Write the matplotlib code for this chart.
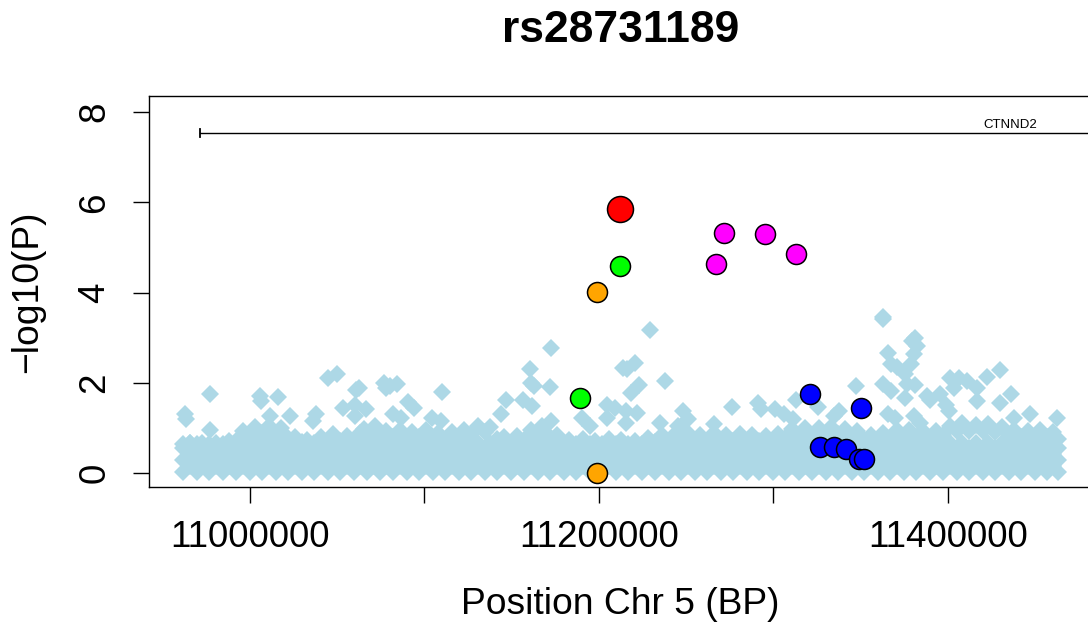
import matplotlib
matplotlib.use("Agg")
import matplotlib.pyplot as plt
from matplotlib.ticker import FixedLocator, FixedFormatter

plt.rcParams['font.family'] = ['Liberation Sans', 'DejaVu Sans']

# ---------------- data ----------------
title = "rs28731189"
x_label = "Position Chr 5 (BP)"
y_label = "\u2212log10(P)"

x_ticks = [11000000, 11100000, 11200000, 11300000, 11400000]
x_tick_labels = ["11000000", "", "11200000", "", "11400000"]
y_ticks = [0, 2, 4, 6, 8]

gene_name = "CTNND2"
gene_start = 10971836
gene_end = 11904155
gene_y = 7.53
gene_label_x = 11435600
gene_label_y = 7.71

# dense band of background SNPs (positions in kb)
band_even_x = [10962, 10970, 10977, 10985, 10992, 11000, 11007, 11015, 11022, 11030,
               11037, 11045, 11052, 11060, 11067, 11075, 11082, 11090, 11097, 11105,
               11112, 11120, 11127, 11135, 11142, 11150, 11157, 11165, 11172, 11180,
               11187, 11195, 11202, 11210, 11217, 11225, 11232, 11240, 11247, 11255,
               11262, 11270, 11277, 11285, 11292, 11300, 11307, 11315, 11322, 11330,
               11337, 11345, 11352, 11360, 11367, 11375, 11382, 11390, 11397, 11405,
               11412, 11420, 11427, 11435, 11442, 11450, 11457, 11463]
band_odd_x = [10966, 10973, 10981, 10988, 10996, 11003, 11011, 11018, 11026, 11033,
              11041, 11048, 11056, 11063, 11071, 11078, 11086, 11093, 11101, 11108,
              11116, 11123, 11131, 11138, 11146, 11153, 11161, 11168, 11176, 11183,
              11191, 11198, 11206, 11213, 11221, 11228, 11236, 11243, 11251, 11258,
              11266, 11273, 11281, 11288, 11296, 11303, 11311, 11318, 11326, 11333,
              11341, 11348, 11356, 11363, 11371, 11378, 11386, 11393, 11401, 11408,
              11416, 11423, 11431, 11438, 11446, 11453, 11460]
band_levels = [0.03, 0.16, 0.29, 0.42, 0.55, 0.66]
band_mid_y = [0.64, 0.64, 0.64, 0.64, 0.70, 0.80, 0.88, 0.88, 0.78, 0.68,
              0.66, 0.70, 0.70, 0.72, 0.72, 0.74, 0.80, 0.78, 0.80, 0.78,
              0.74, 0.78, 0.86, 0.90, 0.76, 0.66, 0.74, 0.84, 0.80, 0.66,
              0.64, 0.64, 0.64, 0.64, 0.64, 0.64, 0.68, 0.70, 0.72, 0.72,
              0.72, 0.72, 0.72, 0.72, 0.70, 0.70, 0.78, 0.84, 0.84, 0.86,
              0.86, 0.82, 0.74, 0.72, 0.78, 0.82, 0.80, 0.78, 0.84, 0.92,
              0.94, 0.92, 0.90, 0.84, 0.80, 0.80, 0.80, 0.76]
band_top_y = [0.66, 0.60, 0.62, 0.72, 0.92, 1.02, 1.05, 1.00, 0.80, 0.74,
              0.80, 0.86, 0.82, 0.88, 0.84, 0.92, 0.95, 0.90, 0.96, 0.88,
              0.90, 0.95, 1.05, 1.02, 0.80, 0.82, 0.95, 1.00, 0.85, 0.74,
              0.76, 0.72, 0.76, 0.74, 0.70, 0.78, 0.85, 0.84, 0.88, 0.84,
              0.88, 0.84, 0.86, 0.84, 0.82, 0.86, 0.98, 0.96, 1.00, 1.02,
              0.98, 0.92, 0.84, 0.88, 0.96, 0.96, 0.92, 0.94, 1.05, 1.10,
              1.06, 1.08, 1.02, 0.95, 0.94, 0.95, 0.90]

# scattered background SNPs above the band (kb, -log10 P)
scatter_x = [10963.1, 10963.7, 10977.5, 10977.5, 11005.8, 11006.3, 11016.1, 11045.0, 11050.1, 11061.1,
             11062.8, 11077.2, 11078.4, 11053.6, 11060.5, 11060.5, 11066.9, 11065.7, 11072.0, 11023.1,
             11038.0, 11036.3, 11011.5, 11080.7, 11084.2, 11110.1, 11090.5, 11094.0, 11082.4, 11086.5,
             11104.3, 11109.5, 11172.9, 11160.8, 11161.4, 11163.1, 11172.3, 11147.0, 11156.8, 11162.0,
             11144.1, 11172.9, 11167.7, 11213.8, 11204.6, 11209.2, 11204.6, 11190.2, 11194.8, 11229.4,
             11216.1, 11220.8, 11223.1, 11218.5, 11238.1, 11215.6, 11221.9, 11215.6, 11248.4, 11251.3,
             11245.5, 11235.2, 11266.3, 11276.1, 11291.1, 11292.8, 11300.9, 11306.1, 11311.3, 11313.0,
             11325.7, 11318.2, 11337.8, 11334.9, 11347.6, 11363.1, 11363.1, 11381.0, 11379.3, 11382.2,
             11366.0, 11380.4, 11367.7, 11370.6, 11378.7, 11375.2, 11363.1, 11367.7, 11376.4, 11381.0,
             11375.2, 11387.9, 11389.6, 11395.4, 11401.2, 11406.4, 11411.0, 11416.7, 11403.5, 11422.5,
             11430.0, 11436.3, 11416.7, 11430.0, 11398.9, 11400.6, 11366.0, 11369.5, 11380.4, 11383.9,
             11447.3, 11438.1, 11462.3]
scatter_y = [1.31, 1.20, 1.75, 0.95, 1.71, 1.60, 1.69, 2.11, 2.20, 1.84,
             1.88, 2.00, 1.88, 1.44, 1.51, 1.26, 1.42, 0.98, 1.04, 1.26,
             1.31, 1.15, 1.26, 1.93, 1.97, 1.80, 1.57, 1.44, 1.31, 1.22,
             1.22, 1.15, 2.77, 2.31, 2.00, 1.93, 1.91, 1.62, 1.62, 1.49,
             1.31, 1.15, 1.04, 2.33, 1.51, 1.44, 1.22, 1.22, 1.04, 3.17,
             2.31, 2.44, 1.95, 1.77, 2.04, 1.37, 1.33, 1.11, 1.37, 1.20,
             1.04, 1.11, 1.09, 1.46, 1.55, 1.42, 1.42, 1.31, 1.20, 1.62,
             1.46, 1.00, 1.37, 1.26, 1.93, 3.46, 3.41, 2.99, 2.93, 2.82,
             2.66, 2.64, 2.42, 2.35, 2.42, 2.20, 1.97, 1.82, 1.97, 1.95,
             1.66, 1.71, 1.62, 1.75, 2.11, 2.11, 2.04, 1.88, 1.88, 2.13,
             2.28, 1.75, 1.60, 1.55, 1.51, 1.37, 1.31, 1.22, 1.26, 1.11,
             1.31, 1.22, 1.22]

# highlighted SNPs (kb, -log10 P), coloured by LD group
index_x = [11212.1]
index_y = [5.85]
green_x = [11212.1, 11189.1]
green_y = [4.59, 1.66]
orange_x = [11198.9, 11198.9]
orange_y = [4.01, 0.00]
magenta_x = [11271.5, 11295.1, 11313.0, 11267.4]
magenta_y = [5.32, 5.30, 4.86, 4.63]
blue_x = [11321.0, 11350.5, 11326.8, 11334.9, 11341.8, 11349.3, 11352.0]
blue_y = [1.75, 1.44, 0.58, 0.58, 0.53, 0.31, 0.32]

# ---------------- figure ----------------
fig = plt.figure(figsize=(10.88, 6.26), dpi=100)
ax = fig.add_axes([149 / 1088, 139 / 626, (1110 - 149) / 1088, 391 / 626])

KB = 1000.0

# build the band rows
bx, by = [], []
for i, lvl in enumerate(band_levels):
    xs = band_even_x if i % 2 == 0 else band_odd_x
    for xv in xs:
        bx.append(xv * KB)
        by.append(lvl)
for xv, yv in zip(band_even_x, band_mid_y):
    bx.append(xv * KB)
    by.append(yv)
for xv, yv in zip(band_odd_x, band_top_y):
    bx.append(xv * KB)
    by.append(yv)
bx += [v * KB for v in scatter_x]
by += list(scatter_y)

ax.plot(bx, by, linestyle='none', marker='D', markersize=8.8,
        markerfacecolor='#ADD8E6', markeredgewidth=0, zorder=2)

def circles(xs, ys, color, size):
    ax.plot([v * KB for v in xs], ys, linestyle='none', marker='o',
            markersize=size, markerfacecolor=color, markeredgecolor='black',
            markeredgewidth=1.1, zorder=4)

circles(blue_x, blue_y, '#0000FF', 14.4)
circles(orange_x, orange_y, '#FFA500', 14.4)
circles(green_x, green_y, '#00FF00', 14.4)
circles(magenta_x, magenta_y, '#FF00FF', 14.4)
circles(index_x, index_y, '#FF0000', 18.7)

# gene track
ax.plot([gene_start, gene_end], [gene_y, gene_y], color='black', lw=1.0, zorder=3)
ax.plot([gene_start, gene_start], [gene_y - 0.09, gene_y + 0.09], color='black', lw=1.3, zorder=3)
ax.text(gene_label_x, gene_label_y, gene_name, fontsize=9.5, ha='center', va='center')

# axes
ax.set_xlim(10942400, 11492900)
ax.set_ylim(-0.31, 8.355)
for s in ax.spines.values():
    s.set_linewidth(1.0)
    s.set_color('black')

ax.xaxis.set_major_locator(FixedLocator(x_ticks))
ax.xaxis.set_major_formatter(FixedFormatter(x_tick_labels))
ax.yaxis.set_major_locator(FixedLocator(y_ticks))
ax.tick_params(axis='both', direction='out', length=11.5, width=1.0, labelsize=26.5, color='black')
ax.tick_params(axis='x', pad=12)
ax.tick_params(axis='y', pad=15)
for lbl in ax.get_yticklabels():
    lbl.set_rotation(90)
    lbl.set_va('center')

fig.text(621 / 1088, 1 - 31 / 626, title, fontsize=32, fontweight='bold', ha='center', va='center')
fig.text(620 / 1088, 1 - 604 / 626, x_label, fontsize=26.8, ha='center', va='center')
fig.text(28 / 1088, 1 - 292 / 626, y_label, fontsize=26.8, ha='center', va='center', rotation=90)

fig.savefig("out.png", dpi=100)
